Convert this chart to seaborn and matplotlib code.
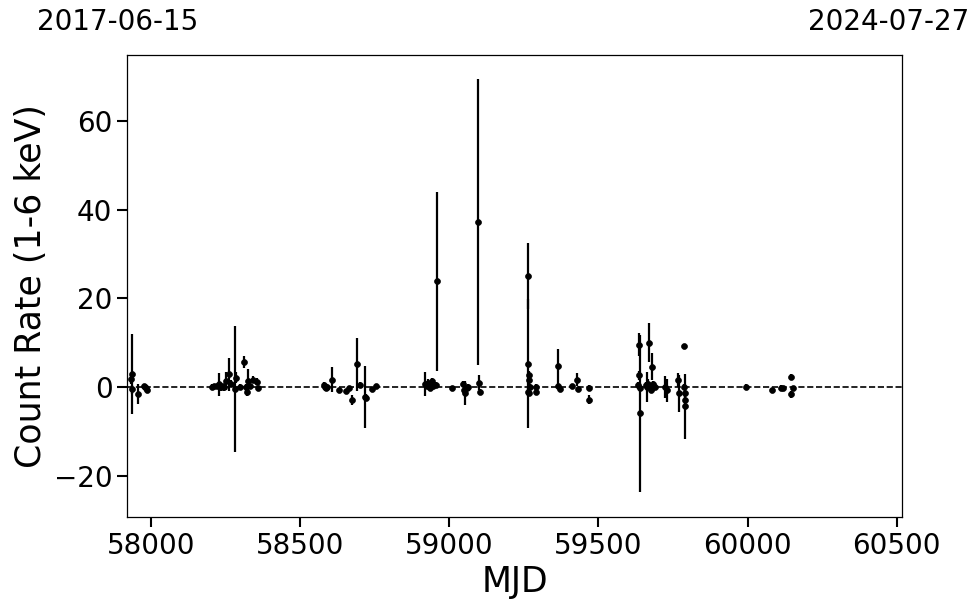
"""
Curva de luz - taxa de contagem vs MJD.
"""

import matplotlib
matplotlib.use("Agg")
import matplotlib.pyplot as plt
import seaborn as sns
import pandas as pd

# dados
mjd = [57934, 57935, 57936, 57957, 57975, 57979, 57984, 57987,
       58203, 58212, 58220, 58228, 58234, 58240, 58244, 58251, 58262, 58268,
       58281, 58283, 58298, 58311, 58317, 58320, 58326, 58331, 58342, 58354, 58359,
       58578, 58583, 58586, 58590, 58605, 58631, 58653, 58664, 58672, 58689,
       58700, 58717, 58722, 58739, 58753,
       58918, 58924, 58929, 58935, 58941, 58946, 58955, 58959, 59008,
       59047, 59049, 59052, 59058, 59063, 59097, 59098, 59102,
       59263, 59264, 59265, 59266, 59267, 59268, 59269, 59290, 59292,
       59365, 59366, 59371, 59410, 59429, 59432, 59469, 59470,
       59634, 59636, 59637, 59638, 59639, 59660, 59664, 59667, 59670, 59675,
       59678, 59679, 59683, 59690, 59723, 59731, 59768, 59769,
       59787, 59788, 59789, 59790, 59791,
       59995, 60083, 60111, 60118, 60146, 60147, 60151]
taxa = [1.8, 3.0, -0.5, -1.6, 0.2, 0.0, -0.3, -0.6,
        0.1, 0.3, 0.2, 0.6, 0.0, 0.2, 0.0, 1.4, 2.9, 0.8,
        -0.5, 2.1, 0.1, 5.6, 0.0, -1.1, 1.4, 0.2, 1.7, 1.2, -0.3,
        0.5, 0.1, -0.3, 0.1, 1.7, -0.7, -0.9, -0.3, -2.9, 5.1,
        0.45, -2.2, -2.4, -0.5, 0.2,
        0.7, 0.2, 1.0, -0.3, 1.4, 0.2, 0.45, 23.9, -0.3,
        0.8, -0.7, -1.4, -0.15, 0.1, 37.2, 1.0, -1.1,
        -1.1, 25.0, 5.3, -1.3, 2.7, 1.6, 0.1, 0.1, -1.1,
        4.7, 0.2, -0.5, 0.2, 1.7, -0.5, -0.1, -2.8,
        0.45, 2.7, 9.6, -0.3, -5.9, 0.5, 0.1, 0.8, 10.0, -0.6,
        4.6, -0.3, 0.6, 0.1, 0.1, -0.7, 1.6, -1.4,
        9.2, 0.1, -1.4, -2.8, -4.3,
        0.1, -0.7, -0.1, -0.3, 2.3, -1.6, -0.3]
erro = [1.0, 9.0, 1.0, 2.3, 0.6, 0.6, 0.6, 0.6,
        0.5, 0.5, 0.6, 2.5, 0.8, 0.6, 0.8, 2.0, 3.7, 0.8,
        14.2, 1.2, 0.6, 1.3, 0.8, 0.8, 2.7, 0.6, 0.8, 0.8, 0.6,
        0.6, 0.6, 0.6, 0.5, 2.9, 0.5, 0.5, 0.5, 1.2, 6.0,
        0.6, 7.0, 0.8, 0.6, 0.5,
        2.7, 0.6, 0.8, 0.6, 0.6, 0.6, 0.6, 20.2, 0.5,
        0.6, 0.6, 2.7, 0.6, 0.6, 32.2, 1.7, 0.6,
        1.0, 7.4, 14.5, 0.8, 1.0, 1.0, 0.6, 0.6, 0.6,
        3.9, 0.6, 0.6, 0.5, 1.5, 0.6, 0.5, 1.0,
        0.8, 1.0, 2.5, 0.6, 17.7, 0.6, 3.4, 1.0, 4.4, 0.8,
        3.0, 0.6, 0.8, 0.6, 2.5, 2.6, 1.5, 4.2,
        0.5, 0.6, 0.8, 0.8, 7.3,
        0.5, 0.5, 0.5, 0.5, 0.7, 0.8, 0.6]

data_ini = "2017-06-15"
data_fim = "2024-07-27"
mjd_ini, mjd_fim = 57919, 60518

df = pd.DataFrame({"MJD": mjd, "taxa": taxa, "erro": erro})

sns.set_style("ticks")
plt.rcParams.update({
    "font.family": ["DejaVu Sans"],
    "text.color": "black",
    "axes.labelcolor": "black",
    "xtick.color": "black",
    "ytick.color": "black",
    "xtick.labelsize": 20,
    "ytick.labelsize": 20,
    "axes.labelsize": 25,
})

fig = plt.figure(figsize=(9.8, 6.13), dpi=100)
ax = fig.add_axes([0.1296, 0.1566, 0.7908, 0.7537])

ax.errorbar(df["MJD"], df["taxa"], yerr=df["erro"], fmt="none",
            ecolor="black", elinewidth=1.6, capsize=0, zorder=2)
sns.scatterplot(data=df, x="MJD", y="taxa", color="black", s=18,
                edgecolor="black", linewidth=0.5, ax=ax, zorder=3)
ax.axhline(0, color="black", ls="--", lw=1.2, zorder=1)

ax.set_xlim(mjd_ini, mjd_fim)
ax.set_ylim(-29.3, 74.9)
ax.set_xticks([58000, 58500, 59000, 59500, 60000, 60500])
ax.set_yticks([-20, 0, 20, 40, 60])
ax.tick_params(length=7, width=1.5, color="black")
for s in ax.spines.values():
    s.set_color("black")
    s.set_linewidth(0.9)

ax.set_xlabel("MJD")
ax.set_ylabel("Count Rate (1-6 keV)")

fig.text(118 / 980, 1 - 22 / 613, data_ini, ha="center", va="center", fontsize=20)
fig.text(889 / 980, 1 - 22 / 613, data_fim, ha="center", va="center", fontsize=20)

fig.savefig("out.png", dpi=100)
